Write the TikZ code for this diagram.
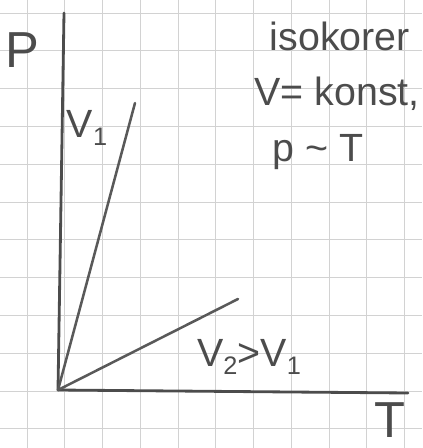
\documentclass[tikz,border=0pt]{standalone}
\usepackage{fontspec}
\setmainfont{Liberation Sans}
\usepackage{xcolor}
\usepackage{tikz}

\newcommand{\sub}[1]{\raisebox{-0.2em}{\fontsize{18}{20}\selectfont #1}}

\begin{document}
\begin{tikzpicture}[
  x=0.025cm, y=-0.025cm,
  gridline/.style={gray!35, line width=0.6pt},
  axis/.style={line width=2pt, black!70, line cap=round},
  curve/.style={line width=1.8pt, black!65, line cap=round},
  lbl/.style={text=black!70, inner sep=0pt},
  big/.style={lbl, font=\fontsize{36}{40}\selectfont},
  txt/.style={lbl, font=\fontsize{28}{33}\selectfont}
]
  \useasboundingbox (0,0) rectangle (422,448);

  % paper grid
  \foreach \i in {0,...,10}
    \draw[gridline] ({27+37.75*\i},0) -- ({27+37.75*\i},448);
  \foreach \j in {0,...,11}
    \draw[gridline] (0,{13+37.8*\j}) -- (422,{13+37.8*\j});

  % points
  \coordinate (O)    at (58,390);
  \coordinate (ptop) at (64,13);
  \coordinate (tend) at (408,393);
  \coordinate (v1)   at (135,103);
  \coordinate (v2)   at (238,299);

  % nodes
  \node[big] (p)     at (22,50)   {P};
  \node[big] (t)     at (390,420) {T};
  \node[txt] (lv1)   at (87,128)  {V\sub{1}};
  \node[txt] (iso)   at (340,36)  {isokorer};
  \node[txt] (konst) at (337,94)  {V= konst,};
  \node[txt] (prop)  at (318,152) {p \textasciitilde\ T};
  \node[txt] (cmp)   at (249,357) {V\sub{2}>V\sub{1}};

  % edges
  \draw[axis] (O) -- (ptop);
  \draw[axis] (O) -- (tend);
  \draw[curve] (O) -- (v1);
  \draw[curve] (O) -- (v2);
\end{tikzpicture}
\end{document}
